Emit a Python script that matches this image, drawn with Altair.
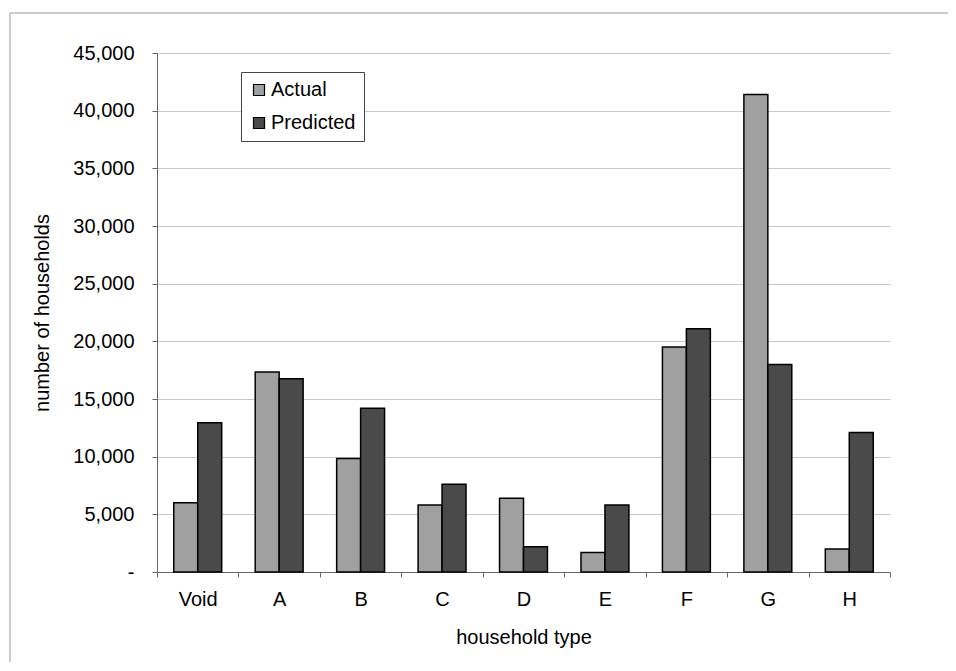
import altair as alt
import pandas as pd

categories = ["Void", "A", "B", "C", "D", "E", "F", "G", "H"]
actual = [6000, 17350, 9850, 5800, 6400, 1700, 19500, 41400, 2000]
predicted = [12950, 16750, 14200, 7600, 2200, 5800, 21100, 18000, 12100]
series = ["Actual", "Predicted"]

rows = []
for c, a, p in zip(categories, actual, predicted):
    rows.append({"type": c, "series": "Actual", "value": a})
    rows.append({"type": c, "series": "Predicted", "value": p})
df = pd.DataFrame(rows)

FONT = "Liberation Sans"

bars = alt.Chart(df).mark_bar(stroke="black", strokeWidth=1.5).encode(
    x=alt.X("type:N", sort=categories, title="household type",
            scale=alt.Scale(paddingInner=0, paddingOuter=0),
            axis=alt.Axis(tickBand="extent", labelAngle=0, grid=False,
                          labelPadding=12, titlePadding=18, tickSize=5,
                          domainColor="#666666", tickColor="#666666")),
    xOffset=alt.XOffset("series:N", sort=series,
                        scale=alt.Scale(paddingInner=0, paddingOuter=0.7)),
    y=alt.Y("value:Q", title="number of households",
            scale=alt.Scale(domain=[0, 45000], nice=False),
            axis=alt.Axis(values=list(range(0, 45001, 5000)),
                          labelExpr="datum.value == 0 ? '-' : format(datum.value, ',')",
                          tickSize=5, labelPadding=18, titlePadding=20,
                          gridColor="#c8c8c8", domainColor="#666666",
                          tickColor="#666666")),
    color=alt.Color("series:N", sort=series,
                    scale=alt.Scale(domain=series, range=["#a0a0a0", "#4a4a4a"]),
                    legend=alt.Legend(title=None, orient="none", legendX=84, legendY=19,
                                      symbolType="square", symbolSize=121,
                                      symbolStrokeColor="black", symbolStrokeWidth=1.2,
                                      labelFontSize=20, labelFont=FONT, labelColor="black",
                                      rowPadding=13, padding=8,
                                      strokeColor="#444444", fillColor="white",
                                      labelOffset=2)),
)

dummy = pd.DataFrame({"k": [0]})
frame_left = alt.Chart(dummy).mark_rule(color="#bbbbbb", strokeWidth=1.5).encode(
    x=alt.value(-147), y=alt.value(-40), y2=alt.value(800))
frame_top = alt.Chart(dummy).mark_rule(color="#bbbbbb", strokeWidth=1.5).encode(
    x=alt.value(-147), x2=alt.value(1000), y=alt.value(-40))

chart = alt.layer(frame_left, frame_top, bars).properties(
    width=733, height=519,
    padding={"left": 149, "top": 45, "right": 58, "bottom": 90},
    autosize=alt.AutoSizeParams(type="none"),
).configure_view(stroke=None).configure_axis(
    labelFont=FONT, titleFont=FONT, labelFontSize=20, titleFontSize=20,
    titleFontWeight="normal", labelColor="black", titleColor="black",
)

chart.save("out.html", embed_options={"renderer": "svg", "actions": False})
